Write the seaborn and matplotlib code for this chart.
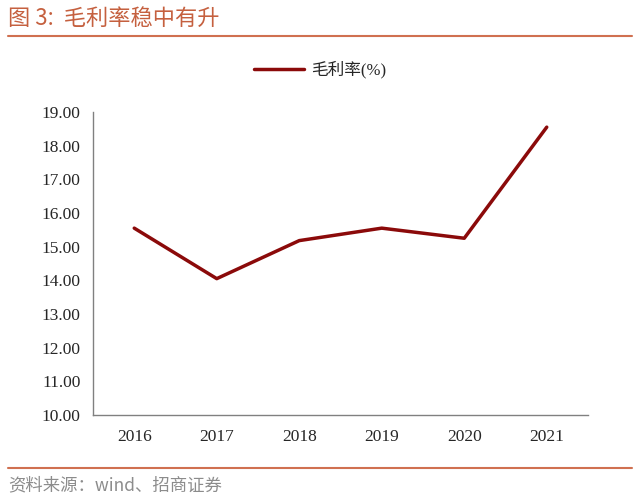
import matplotlib
matplotlib.use("Agg")
import matplotlib.pyplot as plt
import seaborn as sns
import pandas as pd
from matplotlib.lines import Line2D

# Data
years = ["2016", "2017", "2018", "2019", "2020", "2021"]
gross_margin = [15.55, 14.05, 15.18, 15.55, 15.25, 18.55]
y_ticks = [10, 11, 12, 13, 14, 15, 16, 17, 18, 19]

df = pd.DataFrame({"year": years, "margin": gross_margin})

sns.set_style("white")
plt.rcParams['font.family'] = ['Liberation Serif', 'Noto Sans CJK SC', 'DejaVu Sans']

fig = plt.figure(figsize=(6.4, 4.99), dpi=100)
ax = fig.add_axes([93 / 640, 1 - 415 / 499, 495 / 640, 303 / 499])

sns.lineplot(data=df, x="year", y="margin", ax=ax, color="#8B0A0A", linewidth=2.5, sort=False)

ax.set_ylim(10, 19)
ax.set_yticks(y_ticks)
ax.set_yticklabels([f"{v:.2f}" for v in y_ticks], fontsize=12.5)
ax.set_xlim(-0.5, len(years) - 0.5)
ax.set_xticks(range(len(years)))
ax.set_xticklabels(years, fontsize=12.5)
ax.set_xticks([i - 0.5 for i in range(len(years) + 1)], minor=True)
ax.tick_params(axis="x", which="major", length=0, pad=10)
ax.tick_params(axis="x", which="minor", length=4, color="#808080", direction="out", width=1)
ax.tick_params(axis="y", length=4, color="#808080", direction="out", width=1, pad=5)
ax.set_xlabel("")
ax.set_ylabel("")
for side in ["top", "right"]:
    ax.spines[side].set_visible(False)
for side in ["left", "bottom"]:
    ax.spines[side].set_color("#808080")
    ax.spines[side].set_linewidth(1)

handle = Line2D([], [], color="#8B0A0A", linewidth=2.5)
fig.legend([handle], ["毛利率(%)"], loc="center", bbox_to_anchor=(0.5, 1 - 70 / 499),
           frameon=False, handlelength=3.0, handletextpad=0.4,
           prop={"family": ["Liberation Serif", "Noto Sans CJK SC"], "size": 12})

# Header and footer
fig.text(8 / 640, 1 - 18 / 499, "图 3:  毛利率稳中有升", fontsize=16, fontweight="medium",
         color="#C5603F", va="center", ha="left", family=["Noto Sans CJK SC", "DejaVu Sans"])
fig.add_artist(Line2D([8 / 640, 632 / 640], [1 - 36 / 499, 1 - 36 / 499], color="#D07050", linewidth=1.5))
fig.add_artist(Line2D([8 / 640, 632 / 640], [1 - 468 / 499, 1 - 468 / 499], color="#D07050", linewidth=1.5))
fig.text(8 / 640, 1 - 485 / 499, "资料来源：wind、招商证券", fontsize=12.5, color="#8C8C8C",
         va="center", ha="left", family=["Noto Sans CJK SC", "DejaVu Sans"], fontweight="light")

fig.savefig("out.png", dpi=100)
